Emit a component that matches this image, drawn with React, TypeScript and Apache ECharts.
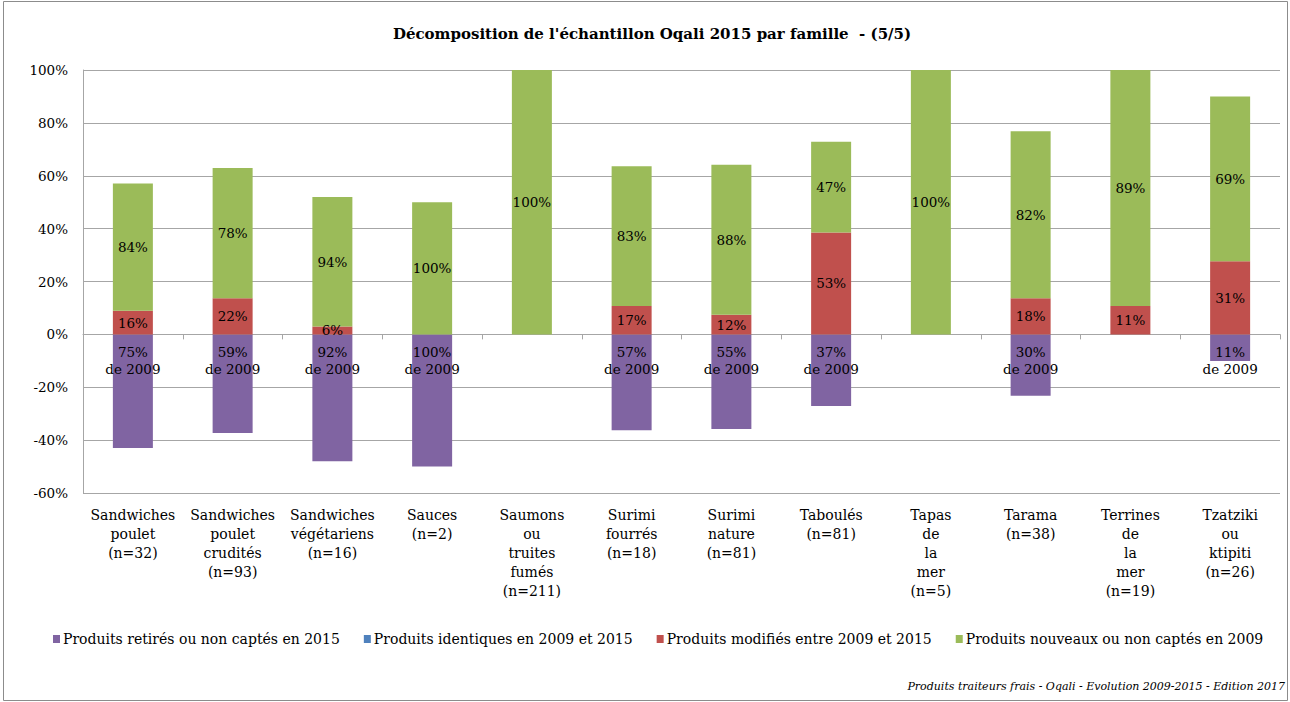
import React, { useEffect, useRef } from "react";
import * as echarts from "echarts";

const categories = [
  "Sandwiches\npoulet\n(n=32)",
  "Sandwiches\npoulet\ncrudités\n(n=93)",
  "Sandwiches\nvégétariens\n(n=16)",
  "Sauces\n(n=2)",
  "Saumons\nou\ntruites\nfumés\n(n=211)",
  "Surimi\nfourrés\n(n=18)",
  "Surimi\nnature\n(n=81)",
  "Taboulés\n(n=81)",
  "Tapas\nde\nla\nmer\n(n=5)",
  "Tarama\n(n=38)",
  "Terrines\nde\nla\nmer\n(n=19)",
  "Tzatziki\nou\nktipiti\n(n=26)",
];

const retires = [-43.0, -37.3, -48.0, -50.0, 0, -36.3, -35.8, -27.1, 0, -23.2, 0, -10.1];
const identiques = [0, 0, 0, 0, 0, 0, 0, 0, 0, 0, 0, 0];
const modifies = [8.9, 13.7, 3.0, 0, 0, 10.7, 7.4, 38.5, 0, 13.7, 10.7, 27.7];
const nouveaux = [48.2, 49.2, 49.0, 50.0, 100, 52.9, 56.8, 34.4, 100, 63.1, 89.3, 62.3];

const retiresLabels = ["75%", "59%", "92%", "100%", "", "57%", "55%", "37%", "", "30%", "", "11%"];
const modifiesLabels = ["16%", "22%", "6%", "", "", "17%", "12%", "53%", "", "18%", "11%", "31%"];
const nouveauxLabels = ["84%", "78%", "94%", "100%", "100%", "83%", "88%", "47%", "100%", "82%", "89%", "69%"];

const seriesNames = [
  "Produits retirés ou non captés en 2015",
  "Produits identiques en 2009 et 2015",
  "Produits modifiés entre 2009 et 2015",
  "Produits nouveaux ou non captés en 2009",
];

const yTicks = { min: -60, max: 100, interval: 20 };

const FONT = "DejaVu Serif";

export default function App() {
  const ref = useRef<HTMLDivElement>(null);
  useEffect(() => {
    if (!ref.current) return;
    const chart = echarts.init(ref.current, null, { renderer: "svg" });
    const labelBase = {
      show: true,
      color: "#000",
      fontFamily: FONT,
      fontSize: 13.5,
    };
    chart.setOption({
      animation: false,
      backgroundColor: "#fff",
      graphic: [
        {
          type: "rect",
          shape: { x: 3.5, y: 1.5, width: 1284, height: 699 },
          style: { fill: "none", stroke: "#8c8c8c", lineWidth: 1 },
          silent: true,
        },
        {
          type: "text",
          x: 652,
          y: 34,
          style: {
            text: "Décomposition de l'échantillon Oqali 2015 par famille  - (5/5)",
            font: `bold 15px "${FONT}"`,
            fill: "#000",
            align: "center",
            verticalAlign: "middle",
          },
        },
        {
          type: "text",
          x: 1285,
          y: 686,
          style: {
            text: "Produits traiteurs frais - Oqali - Evolution 2009-2015 - Edition 2017",
            font: `italic 11px "${FONT}"`,
            fill: "#000",
            align: "right",
            verticalAlign: "middle",
          },
        },
      ],
      legend: {
        data: seriesNames,
        left: 48,
        top: 627,
        itemWidth: 7,
        itemHeight: 8,
        itemGap: 24,
        icon: "rect",
        textStyle: { fontFamily: FONT, fontSize: 14, color: "#000", padding: [0, 0, 0, -2] },
      },
      grid: { left: 83, right: 10, top: 70, bottom: 209 },
      xAxis: [
        {
          type: "category",
          data: categories,
          position: "bottom",
          axisLine: { show: false, onZero: false },
          axisTick: { show: false },
          axisLabel: {
            interval: 0,
            margin: 12,
            fontFamily: FONT,
            fontSize: 14,
            lineHeight: 19,
            color: "#000",
          },
        },
        {
          type: "category",
          data: categories,
          position: "bottom",
          axisLine: { show: true, onZero: true, onZeroAxisIndex: 0, lineStyle: { color: "#a6a6a6", width: 1 } },
          axisTick: { show: true, length: 5, lineStyle: { color: "#a6a6a6" } },
          axisLabel: { show: false },
        },
      ],
      yAxis: {
        type: "value",
        min: yTicks.min,
        max: yTicks.max,
        interval: yTicks.interval,
        axisLine: { show: true, lineStyle: { color: "#a6a6a6" } },
        axisTick: { show: false },
        splitLine: { lineStyle: { color: "#a6a6a6" } },
        axisLabel: {
          formatter: "{value}%",
          margin: 15,
          fontFamily: FONT,
          fontSize: 13.5,
          color: "#000",
        },
      },
      series: [
        {
          name: seriesNames[0],
          type: "bar",
          stack: "s",
          barWidth: 40,
          data: retires,
          itemStyle: { color: "#8064A2" },
          label: {
            ...labelBase,
            position: "insideTop",
            distance: 9,
            lineHeight: 17,
            formatter: (p: any) => (retiresLabels[p.dataIndex] ? retiresLabels[p.dataIndex] + "\nde 2009" : ""),
          },
        },
        {
          name: seriesNames[1],
          type: "bar",
          stack: "s",
          barWidth: 40,
          data: identiques,
          itemStyle: { color: "#4F81BD" },
        },
        {
          name: seriesNames[2],
          type: "bar",
          stack: "s",
          barWidth: 40,
          data: modifies,
          itemStyle: { color: "#C0504D" },
          label: {
            ...labelBase,
            position: "inside",
            formatter: (p: any) => modifiesLabels[p.dataIndex],
          },
        },
        {
          name: seriesNames[3],
          type: "bar",
          stack: "s",
          barWidth: 40,
          data: nouveaux,
          itemStyle: { color: "#9BBB59" },
          label: {
            ...labelBase,
            position: "inside",
            formatter: (p: any) => nouveauxLabels[p.dataIndex],
          },
        },
      ],
    });
    return () => chart.dispose();
  }, []);
  return (
    <div
      ref={ref}
      style={{ position: "fixed", left: 0, top: 0, width: 1290, height: 702 }}
    />
  );
}
